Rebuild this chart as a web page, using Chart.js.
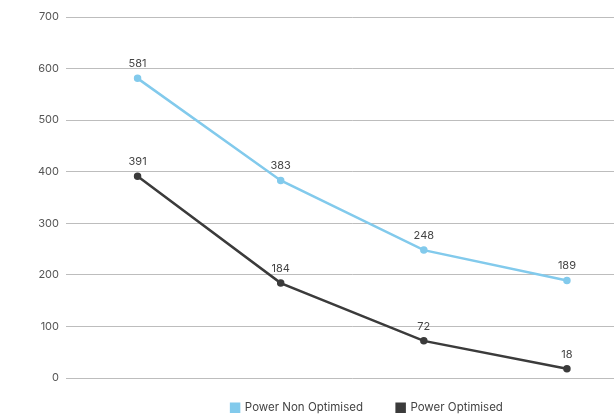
<!DOCTYPE html>
<html lang="en">
<head>
<meta charset="UTF-8">
<title>Power chart</title>
<style>
    html, body { margin: 0; padding: 0; overflow: hidden; background: #fff; }
    #wrap { width: 734px; height: 417px; }
</style>
</head>
<body>
<div id="wrap"><canvas id="grafica"></canvas></div>
<script src="https://cdn.jsdelivr.net/npm/chart.js"></script>
<script>
    const categorias = ['1', '2', '3', '4'];
    const noOptimizado = [581, 383, 248, 189];
    const optimizado = [391, 184, 72, 18];
    const ticksY = [0, 100, 200, 300, 400, 500, 600, 700];

    const fuente = 'Inter, "Open Sans", sans-serif';

    // etiquetas encima de cada punto
    const etiquetas = {
        id: 'etiquetas',
        afterDatasetsDraw(chart) {
            const ctx = chart.ctx;
            ctx.save();
            ctx.font = '11px ' + fuente;
            ctx.fillStyle = '#444';
            ctx.textAlign = 'center';
            ctx.textBaseline = 'bottom';
            chart.data.datasets.forEach((ds, i) => {
                chart.getDatasetMeta(i).data.forEach((p, j) => {
                    ctx.fillText(ds.data[j], p.x, p.y - 9);
                });
            });
            ctx.restore();
        }
    };

    new Chart(document.getElementById('grafica'), {
        type: 'line',
        data: {
            labels: categorias,
            datasets: [{
                label: 'Power Non Optimised   ',
                data: noOptimizado,
                borderColor: '#82caec',
                backgroundColor: '#82caec',
                borderWidth: 2.5,
                pointRadius: 2.5,
                tension: 0
            }, {
                label: 'Power Optimised',
                data: optimizado,
                borderColor: '#3b3b3b',
                backgroundColor: '#3b3b3b',
                borderWidth: 2.5,
                pointRadius: 2.5,
                tension: 0
            }]
        },
        options: {
            responsive: true,
            maintainAspectRatio: false,
            animation: false,
            layout: { padding: { top: 17, right: 0, left: 0, bottom: -6.5 } },
            plugins: {
                tooltip: { enabled: false },
                legend: {
                    position: 'bottom',
                    labels: {
                        boxWidth: 8,
                        boxHeight: 8,
                        padding: 24,
                        color: '#444',
                        font: { family: fuente, size: 11.5 }
                    }
                }
            },
            scales: {
                x: {
                    display: false,
                    offset: true
                },
                y: {
                    min: 0,
                    max: 700,
                    afterBuildTicks(axis) { axis.ticks = ticksY.map(v => ({ value: v })); },
                    afterFit(axis) { axis.width = 66; },
                    grid: { color: '#bdbdbd', lineWidth: 1, drawTicks: true, tickLength: 7, tickColor: 'transparent' },
                    border: { display: false },
                    ticks: { color: '#555', font: { family: fuente, size: 11 }, padding: 0 }
                },
                // eje vacío a la derecha: el gráfico original sigue más allá del borde
                derecha: {
                    position: 'right',
                    grid: { display: false },
                    border: { display: false },
                    ticks: { display: false },
                    afterFit(axis) { axis.width = 95.5; }
                }
            }
        },
        plugins: [etiquetas]
    });
</script>
</body>
</html>
